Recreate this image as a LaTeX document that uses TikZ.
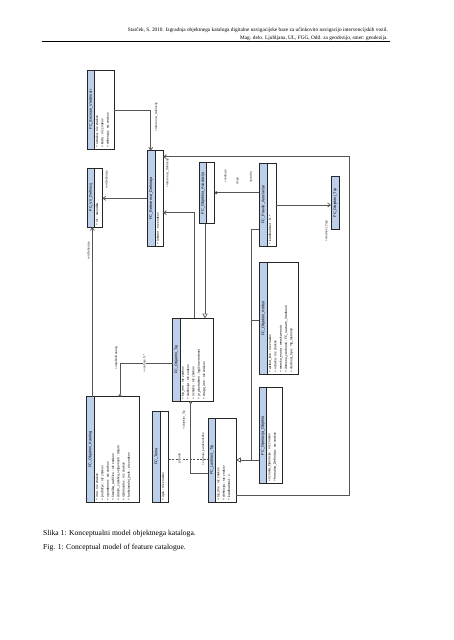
\documentclass[tikz,border=0pt]{standalone}
\usepackage{fontspec}
\setmainfont{Liberation Serif}
\newfontfamily\umlsans{Liberation Sans}
\usetikzlibrary{arrows.meta}
\definecolor{hdrblue}{RGB}{188,208,236}
\definecolor{conngray}{RGB}{85,85,85}
\newcommand\clsfont{\umlsans\fontsize{3.8}{4.4}\selectfont}
\newcommand\attfont{\umlsans\fontsize{3.3}{5.3}\selectfont}
\tikzset{
  clsline/.style={draw=black!85, line width=0.85pt},
  hdrfill/.style={fill=hdrblue},
  conn/.style={draw=conngray, line width=0.7pt},
  navarrow/.style={conn, -{Straight Barb[length=2.8pt,width=4pt]}},
  genarrow/.style={conn, -{Triangle[open,fill=white,length=4.8pt,width=5.2pt]}},
  aggstart/.style={conn, {Circle[open,fill=white,length=2.8pt]}-},
  lbl/.style={rotate=90, font=\umlsans\fontsize{3.1}{3.4}\selectfont, inner sep=0.4pt, text=black!85},
  hdrtext/.style={font=\fontsize{5.3}{7}\selectfont, inner sep=0pt, anchor=base east},
  captext/.style={font=\fontsize{7.6}{9}\selectfont, inner sep=0pt, anchor=base west}
}
% #1 name, #2 x1, #3 y1, #4 x2, #5 y2, #6 header width, #7 title, #8 attributes
\newcommand\umlbox[8]{%
  \node[inner sep=0pt, anchor=north west, minimum width={#4-#2}, minimum height={#5-#3}] (#1) at (#2,#3) {};
  \fill[hdrfill] (#1.north west) rectangle ([xshift=#6]#1.south west);
  \draw[clsline] ([xshift=#6]#1.north west) -- ([xshift=#6]#1.south west);
  \draw[clsline] (#1.north west) rectangle (#1.south east);
  \node[rotate=90, font=\clsfont, inner sep=0pt] (#1-t) at ([xshift={#6*0.5}]#1.west) {#7};
  \node[rotate=90, anchor=north west, align=left, font=\attfont, inner sep=0pt] (#1-a) at ([xshift={#6+1.3}, yshift=1.6]#1.south west) {#8};
}
\begin{document}
\begin{tikzpicture}[x=1pt,y=-1pt]
\useasboundingbox[fill=white] (0,0) rectangle (453,640);

% page header
\node[hdrtext] (h1) at (388,31) {Starček, S. 2010. Izgradnja objektnega kataloga digitalne navigacijske baze za učinkovito navigacijo intervencijskih vozil.};
\node[hdrtext] (h2) at (388,39) {Mag. delo. Ljubljana, UL, FGG, Odd. za geodezijo, smer: geodezija.};
\coordinate (hl1) at (42,41.6);
\coordinate (hl2) at (390,41.6);
\draw[line width=0.7pt] (hl1) -- (hl2);

% classes
\umlbox{sez}{87.3}{70}{114}{149}{7}{FC\_Seznam\_Vrednosti}{+ oznaka : niz znakov\\+ koda : niz znakov\\+ definicija : niz znakov}
\umlbox{vir}{87.3}{168.3}{102}{226.7}{7}{FC\_Vir\_Definicij}{+ vir : navedba}
\umlbox{ref}{147.3}{150.7}{162.7}{245.7}{7.7}{FC\_Reference\_Definicija}{+ lokator : niz znakov}
\umlbox{asoc}{199.3}{162.7}{214.3}{223.3}{7.3}{FC\_Objektna\_Asociacija}{}
\umlbox{prav}{259.3}{163.3}{275.7}{245.7}{8}{FC\_Pravilo\_Asociacije}{+ kardinalnost : 0..*}
\umlbox{otipb}{331}{176.7}{339.3}{229}{8.3}{FC\_Objektni\_Tip}{}
\umlbox{atr}{259.3}{262.7}{298.3}{374}{8}{FC\_Objektni\_Atribut}{+ atribut\_ime : niz znakov\\+ oznaka : niz znakov\\+ merska\_enota : merska enota\\+ domena\_vrednosti : FC\_seznam\_Vrednosti\\+ vrednost\_tipa : Tip\_lastnosti}
\umlbox{kat}{86.7}{396.7}{139.3}{501.7}{7.6}{FC\_Objektni\_Katalog}{+ ime : niz znakov\\+ področje : niz znakov\\+ uporabnost : niz znakov\\+ številka\_različice : niz znakov\\+ datum\_začetka\_veljavnosti : datum\\+ izdelovalec : niz znakov\\+ funkcionalni\_jezik : niz znakov}
\umlbox{tema}{152.7}{411}{168.3}{501.7}{7.6}{FC\_Tema}{+ opis : niz znakov}
\umlbox{otip}{172.7}{318.3}{212.7}{400.7}{7.3}{FC\_Objektni\_Tip}{+ tip\_ime : niz znakov\\+ definicija : niz znakov\\+ oznaka : niz znakov\\+ je\_abstrakten : logična vrednost\\+ drugo\_ime : niz znakov}
\umlbox{ltip}{208.3}{418.3}{235.7}{501.7}{7.3}{FC\_Lastnost\_Tip}{+ tip\_ime : niz znakov\\+ definicija : niz znakov\\+ kardinalnost : 1}
\umlbox{oper}{259.3}{387.7}{281.7}{483.3}{7.3}{FC\_Operacija\_Objekta}{+ oznaka\_Operacije : niz znakov\\+ formalna\_Definicija : niz znakov}

% connectors
\draw[navarrow] (sez.east |- 0,110) -| (ref.north -| 150.7,0);
\node[lbl] (l1) at (156.3,117) {+referenca\_Definicije};

\draw[navarrow] (ref.west |- 0,198.3) -- (vir.east |- 0,198.3);
\node[lbl] (l2) at (106.8,180) {+virDefinicije};

\draw[aggstart, -{Straight Barb[length=2.8pt,width=4pt]}] (kat.north -| 92.3,0) -- (vir.south -| 92.3,0);
\node[lbl] (l3) at (88.8,251) {+virDefinicije};

\draw[aggstart] (kat.north -| 120,0) |- (otip.west |- 0,363.3);
\node[lbl] (l4) at (116.3,358) {+objektniKatalog};
\node[lbl, fill=white] (l5) at (144.5,363.3) {+vsebuje 0..*};

\draw[aggstart] (otip.south -| 190.7,0) |- (ltip.west |- 0,473.3);
\node[lbl] (l6) at (184,420) {+objektni\_Tip};
\node[lbl] (l7) at (203.3,449) {+vsebuje\_karakteristike};

\draw[conn, dash pattern=on 2pt off 1.5pt] (tema.east |- 0,459.3) -- (ltip.west |- 0,459.3);
\node[lbl, fill=white] (l8) at (179.5,458.5) {pripada};

\draw[genarrow] (oper.west |- 0,460) -- (ltip.east |- 0,460);
\coordinate (trunkb) at (251.7,460);
\draw[conn] (prav.west |- 0,229) -| (trunkb);
\draw[conn] (atr.west |- 0,320) -- (trunkb |- 0,320);

\draw[genarrow] (asoc.south -| 205,0) -- (otip.north -| 205,0);

\draw[navarrow] (otip.north -| 194.3,0) |- (ref.east |- 0,212.7);

\draw[conn, -{Circle[length=3pt,fill=black]}] (prav.west |- 0,192.7) -- (asoc.east |- 0,192.7);
\node[lbl] (l9) at (225.5,176.5) {+vsebuje};
\node[lbl] (l10) at (237.5,181) {vlogo};
\node[lbl] (l11) at (251,177.5) {+pravila};

\draw[navarrow] (prav.east |- 0,205) -- (otipb.west |- 0,205);
\node[lbl] (l12) at (326.5,231) {+vrednost\_Tipa};

\coordinate (fr) at (349.3,156.7);
\draw[navarrow] (ltip.east |- 0,495) -| (fr) -- (ref.east |- 0,156.7);
\node[lbl] (l13) at (167.5,173) {+referenca\_Definicije};

% caption
\node[captext] (cap1) at (43,535) {Slika 1: Konceptualni model objektnega kataloga.};
\node[captext] (cap2) at (43,549.5) {Fig. 1: Conceptual model of feature catalogue.};
\end{tikzpicture}
\end{document}
